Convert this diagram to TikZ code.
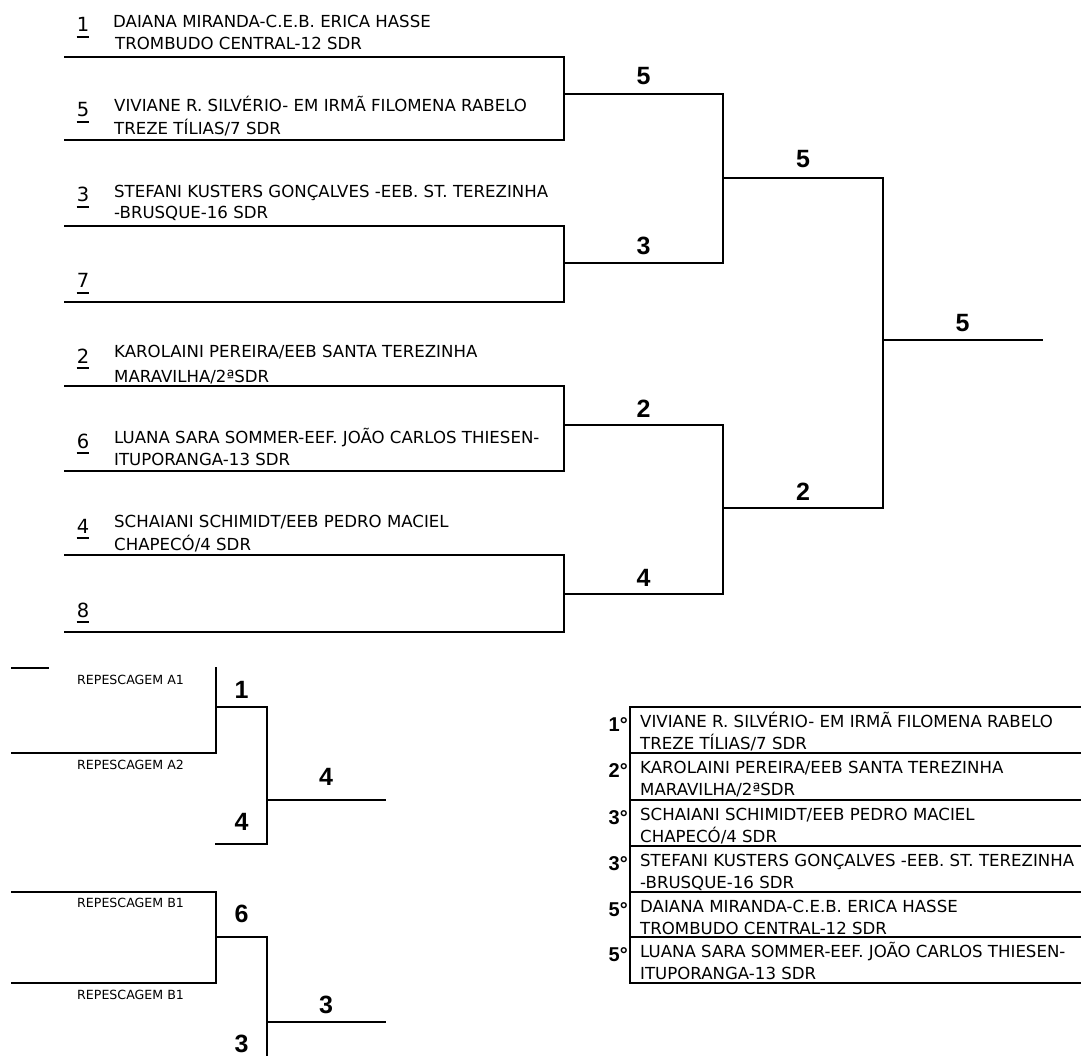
\documentclass[tikz,border=0pt]{standalone}
\usepackage{fontspec}
\newfontfamily\txtfamily{DejaVu Sans}
\newfontfamily\boldfamily{Liberation Sans}
\newcommand\txtfont{\txtfamily\fontsize{16.6}{20}\selectfont}
\newcommand\repfont{\txtfamily\fontsize{12.6}{15}\selectfont}
\newcommand\numfont{\txtfamily\fontsize{19.5}{22}\selectfont}
\newcommand\scorefont{\boldfamily\bfseries\fontsize{25}{28}\selectfont}
\newcommand\ordfont{\boldfamily\bfseries\fontsize{20}{22}\selectfont}
\tikzset{
  ln/.style={line width=2.2pt, line cap=rect},
  ulstyle/.style={line width=1.5pt},
  txt/.style={font=\txtfont, anchor=base west, inner sep=0pt},
  rep/.style={font=\repfont, anchor=base west, inner sep=0pt},
  num/.style={font=\numfont, anchor=base, inner sep=0pt},
  score/.style={font=\scorefont, anchor=base, inner sep=0pt},
  ord/.style={font=\ordfont, anchor=base east, inner sep=0pt},
}
\begin{document}
\begin{tikzpicture}[x=1pt,y=-1pt]
\useasboundingbox[fill=white] (0,0) rectangle (1081,1056);

% ---------- main bracket coordinates ----------
\foreach \n/\y in {1/57,5/140,3/226,7/302,2/386,6/471,4/555,8/632}{
  \coordinate (L\n) at (65,\y);
  \coordinate (R\n) at (564,\y);
}
\coordinate (m15) at (564,94);   \coordinate (m15e) at (723,94);
\coordinate (m37) at (564,263);  \coordinate (m37e) at (723,263);
\coordinate (m26) at (564,425);  \coordinate (m26e) at (723,425);
\coordinate (m48) at (564,594);  \coordinate (m48e) at (723,594);
\coordinate (s1) at (723,178);   \coordinate (s1e) at (883,178);
\coordinate (s2) at (723,508);   \coordinate (s2e) at (883,508);
\coordinate (f) at (883,340);    \coordinate (fe) at (1042,340);

\foreach \n in {1,5,3,7,2,6,4,8}{ \draw[ln] (L\n) -- (R\n); }
\draw[ln] (R1) -- (R5);
\draw[ln] (R3) -- (R7);
\draw[ln] (R2) -- (R6);
\draw[ln] (R4) -- (R8);
\draw[ln] (m15) -- (m15e);
\draw[ln] (m37) -- (m37e);
\draw[ln] (m26) -- (m26e);
\draw[ln] (m48) -- (m48e);
\draw[ln] (m15e) -- (m37e);
\draw[ln] (m26e) -- (m48e);
\draw[ln] (s1) -- (s1e);
\draw[ln] (s2) -- (s2e);
\draw[ln] (s1e) -- (s2e);
\draw[ln] (f) -- (fe);

% seed numbers
\foreach \n/\y in {1/32,5/117,3/202,7/288,2/363,6/448,4/533,8/617}{
  \node[num] (n\n) at (83,\y) {\n};
  \draw[ulstyle] ([yshift=-5pt]n\n.base west) -- ([yshift=-5pt]n\n.base east);
}

% entry names
\node[txt] (t1a) at (113,28) {DAIANA MIRANDA-C.E.B. ERICA HASSE};
\node[txt] (t1b) at (115,50) {TROMBUDO CENTRAL-12 SDR};
\node[txt] (t5a) at (114,112) {VIVIANE R. SILVÉRIO- EM IRMÃ FILOMENA RABELO};
\node[txt] (t5b) at (114,135) {TREZE TÍLIAS/7 SDR};
\node[txt] (t3a) at (114,198) {STEFANI KUSTERS GONÇALVES -EEB. ST. TEREZINHA};
\node[txt] (t3b) at (114,219) {-BRUSQUE-16 SDR};
\node[txt] (t2a) at (114,358) {KAROLAINI PEREIRA/EEB SANTA TEREZINHA};
\node[txt] (t2b) at (114,382) {MARAVILHA/2ªSDR};
\node[txt] (t6a) at (114,443) {LUANA SARA SOMMER-EEF. JOÃO CARLOS THIESEN-};
\node[txt] (t6b) at (114,465) {ITUPORANGA-13 SDR};
\node[txt] (t4a) at (114,527) {SCHAIANI SCHIMIDT/EEB PEDRO MACIEL};
\node[txt] (t4b) at (114,550) {CHAPECÓ/4 SDR};

% scores
\node[score] (sc1) at (643.5,85) {5};
\node[score] (sc2) at (643.5,255) {3};
\node[score] (sc3) at (643.5,417) {2};
\node[score] (sc4) at (643.5,586) {4};
\node[score] (sc5) at (803,168) {5};
\node[score] (sc6) at (803,500) {2};
\node[score] (sc7) at (962.5,332) {5};

% ---------- repescagem A ----------
\coordinate (a0) at (12,668);  \coordinate (a0e) at (48,668);
\coordinate (a1) at (216,668);
\coordinate (a2) at (12,753);  \coordinate (a2e) at (216,753);
\coordinate (am) at (216,707); \coordinate (ame) at (267,707);
\coordinate (ab) at (216,844); \coordinate (abe) at (267,844);
\coordinate (ao) at (267,800); \coordinate (aoe) at (385,800);
\draw[ln] (a0) -- (a0e);
\draw[ln] (a1) -- (a2e);
\draw[ln] (a2) -- (a2e);
\draw[ln] (am) -- (ame);
\draw[ln] (ame) -- (abe);
\draw[ln] (ab) -- (abe);
\draw[ln] (ao) -- (aoe);
\node[rep] (ra1) at (77,684) {REPESCAGEM A1};
\node[rep] (ra2) at (77,769) {REPESCAGEM A2};
\node[score] (ras1) at (241.5,698) {1};
\node[score] (ras2) at (241.5,830) {4};
\node[score] (ras3) at (326,785) {4};

% ---------- repescagem B ----------
\coordinate (b1) at (12,892);  \coordinate (b1e) at (216,892);
\coordinate (b2) at (12,983);  \coordinate (b2e) at (216,983);
\coordinate (bm) at (216,937); \coordinate (bme) at (267,937);
\coordinate (bb) at (267,1060);
\coordinate (bo) at (267,1022); \coordinate (boe) at (385,1022);
\draw[ln] (b1) -- (b1e);
\draw[ln] (b2) -- (b2e);
\draw[ln] (b1e) -- (b2e);
\draw[ln] (bm) -- (bme);
\draw[ln] (bme) -- (bb);
\draw[ln] (bo) -- (boe);
\node[rep] (rb1) at (77,907) {REPESCAGEM B1};
\node[rep] (rb2) at (77,999) {REPESCAGEM B1};
\node[score] (rbs1) at (241.5,922) {6};
\node[score] (rbs2) at (241.5,1052) {3};
\node[score] (rbs3) at (326,1013) {3};

% ---------- final classification table ----------
\foreach \k/\y in {0/707,1/753,2/800,3/846,4/892,5/937,6/983}{
  \coordinate (tl\k) at (630,\y);
  \coordinate (tr\k) at (1083,\y);
  \draw[ln] (tl\k) -- (tr\k);
}
\draw[ln] (tl0) -- (tl6);

\node[ord] (o1) at (628,731) {1°};
\node[txt] (c1a) at (640,727) {VIVIANE R. SILVÉRIO- EM IRMÃ FILOMENA RABELO};
\node[txt] (c1b) at (640,749) {TREZE TÍLIAS/7 SDR};
\node[ord] (o2) at (628,777) {2°};
\node[txt] (c2a) at (640,773) {KAROLAINI PEREIRA/EEB SANTA TEREZINHA};
\node[txt] (c2b) at (640,795) {MARAVILHA/2ªSDR};
\node[ord] (o3) at (628,824) {3°};
\node[txt] (c3a) at (640,820) {SCHAIANI SCHIMIDT/EEB PEDRO MACIEL};
\node[txt] (c3b) at (640,842) {CHAPECÓ/4 SDR};
\node[ord] (o4) at (628,870) {3°};
\node[txt] (c4a) at (640,866) {STEFANI KUSTERS GONÇALVES -EEB. ST. TEREZINHA};
\node[txt] (c4b) at (640,888) {-BRUSQUE-16 SDR};
\node[ord] (o5) at (628,916) {5°};
\node[txt] (c5a) at (640,912) {DAIANA MIRANDA-C.E.B. ERICA HASSE};
\node[txt] (c5b) at (640,934) {TROMBUDO CENTRAL-12 SDR};
\node[ord] (o6) at (628,961) {5°};
\node[txt] (c6a) at (640,957) {LUANA SARA SOMMER-EEF. JOÃO CARLOS THIESEN-};
\node[txt] (c6b) at (640,979) {ITUPORANGA-13 SDR};
\end{tikzpicture}
\end{document}
